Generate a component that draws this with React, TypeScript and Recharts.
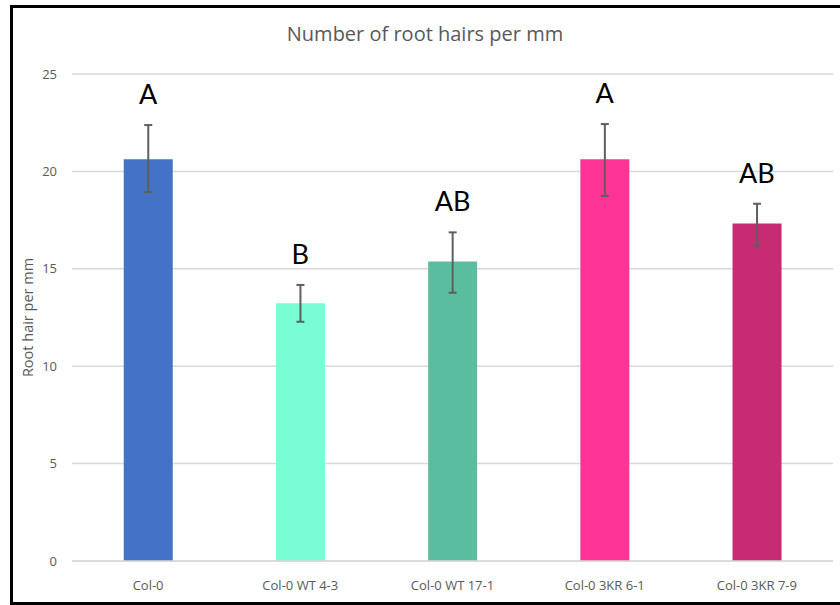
import React from 'react';
import { ComposedChart, Bar, Line, XAxis, YAxis, CartesianGrid, ErrorBar, Cell, LabelList } from 'recharts';

const categories = ['Col-0', 'Col-0 WT 4-3', 'Col-0 WT 17-1', 'Col-0 3KR 6-1', 'Col-0 3KR 7-9'];
const means = [20.62, 13.23, 15.37, 20.62, 17.32];
const errLow = [1.68, 0.95, 1.6, 1.88, 1.12];
const errHigh = [1.76, 0.94, 1.5, 1.81, 1.02];
const letters = ['A', 'B', 'AB', 'A', 'AB'];
const colors = ['#4472C4', '#78FDD4', '#5ABD9F', '#FF3496', '#C72B74'];
const yTicks = [0, 5, 10, 15, 20, 25];

const data = categories.map((c, i) => ({
  name: c,
  value: means[i],
  err: [errLow[i], errHigh[i]],
  top: means[i] + errHigh[i],
  letter: letters[i],
}));

const FONT = '"Open Sans", Lato, sans-serif';
const LFONT = 'Lato, "Open Sans", sans-serif';

const YLabel = (props: any) => {
  const vb = props.viewBox || {};
  const x = vb.x + 5;
  const y = vb.y + vb.height / 2;
  return (
    <text
      x={x}
      y={y}
      transform={`rotate(-90, ${x}, ${y})`}
      textAnchor="middle"
      dominantBaseline="central"
      fill="#595959"
      fontSize={14.5}
      fontFamily={FONT}
    >
      Root hair per mm
    </text>
  );
};

export default function App() {
  return (
    <div style={{ position: 'absolute', left: 0, top: 0, width: 840, height: 605, background: '#fff', overflow: 'hidden' }}>
      <div
        style={{
          position: 'absolute',
          left: 10,
          top: 5,
          width: 860,
          height: 594,
          border: '3px solid #000',
          boxSizing: 'content-box',
        }}
      />
      <div
        style={{
          position: 'absolute',
          left: 0,
          width: 850,
          top: 20,
          textAlign: 'center',
          fontFamily: FONT,
          fontSize: 20,
          color: '#595959',
        }}
      >
        Number of root hairs per mm
      </div>
      <div style={{ position: 'absolute', left: 0, top: 0 }}>
        <ComposedChart
          width={840}
          height={605}
          data={data}
          margin={{ top: 74, right: 7, bottom: 14, left: 22 }}
          barCategoryGap="34%"
        >
          <CartesianGrid vertical={false} stroke="#D9D9D9" strokeWidth={1.5} />
          <XAxis
            dataKey="name"
            height={30}
            tickLine={false}
            axisLine={{ stroke: '#D9D9D9', strokeWidth: 1.5 }}
            tick={{ fill: '#595959', fontSize: 13, fontFamily: FONT }}
            tickMargin={14}
            interval={0}
          />
          <YAxis
            width={50}
            domain={[0, 25]}
            ticks={yTicks}
            tickLine={false}
            axisLine={false}
            tick={{ fill: '#595959', fontSize: 13, fontFamily: FONT }}
            tickMargin={9}
            label={<YLabel />}
          />
          <Bar dataKey="value" isAnimationActive={false}>
            {data.map((d, i) => (
              <Cell key={d.name} fill={colors[i]} />
            ))}
            <ErrorBar dataKey="err" width={4} stroke="#5f5f5f" strokeWidth={2} direction="y" />
          </Bar>
          <Line dataKey="top" stroke="none" dot={false} activeDot={false} isAnimationActive={false} legendType="none">
            <LabelList dataKey="letter" position="top" offset={21} fill="#000" fontSize={27} fontFamily={LFONT} />
          </Line>
        </ComposedChart>
      </div>
    </div>
  );
}
